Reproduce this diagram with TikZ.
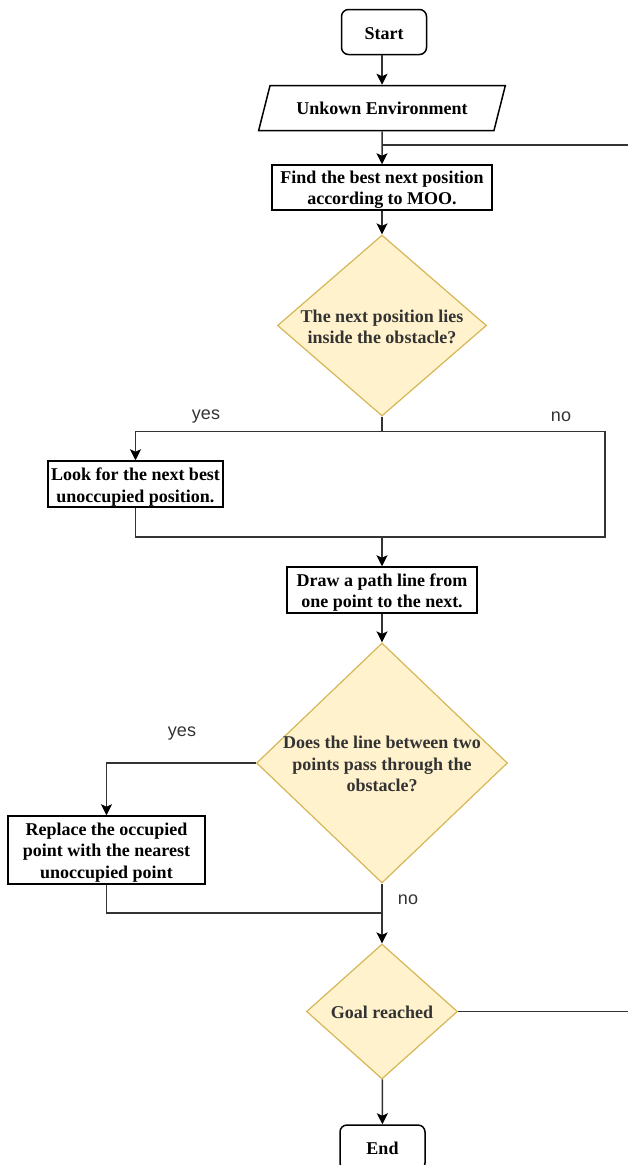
\documentclass[tikz,border=0pt]{standalone}
\usepackage{fontspec}
\setmainfont{Liberation Serif}
\newfontfamily\labfont{Liberation Sans}
\usetikzlibrary{shapes.geometric,arrows.meta}
\definecolor{dfill}{HTML}{FFF2CC}
\definecolor{dline}{HTML}{D6B656}
\definecolor{cline}{HTML}{333333}
\begin{document}
\begin{tikzpicture}[x=1pt,y=-1pt,
  txt/.style={font=\fontsize{18}{21.5}\selectfont\bfseries, align=center, text=black, inner sep=0pt},
  procbox/.style={draw=black, line width=1.5pt, rectangle, inner sep=0pt},
  termbox/.style={procbox, rounded corners=7pt},
  decbox/.style={diamond, draw=dline, fill=dfill, line width=1.2pt, inner sep=0pt},
  conn/.style={draw=cline, line width=1.5pt},
  arr/.style={conn, -{Stealth[length=11pt,width=11pt,inset=2.5pt,color=black]}},
  lab/.style={font=\labfont\fontsize{18}{21}\selectfont, text=cline}
]
\useasboundingbox (0,0) rectangle (628,1165);

% shapes
\node[termbox, minimum width=85pt, minimum height=45pt] (start) at (384,32) {};
\node[txt, trapezium, trapezium left angle=59, trapezium right angle=121, trapezium stretches=true, draw=black, line width=1.5pt, minimum width=247pt, minimum height=45pt, inner sep=1pt] (env) at (382,108) {Unkown Environment};
\node[procbox, minimum width=220pt, minimum height=45pt] (find) at (382,187.5) {};
\node[decbox, minimum width=209pt, minimum height=181pt] (d1) at (382,325.5) {};
\node[procbox, minimum width=175pt, minimum height=46pt] (look) at (135.5,484) {};
\node[procbox, minimum width=190pt, minimum height=46pt] (drawp) at (382,590) {};
\node[decbox, minimum width=251pt, minimum height=240pt] (d2) at (382,763) {};
\node[procbox, minimum width=197pt, minimum height=68pt] (repl) at (106.5,850) {};
\node[decbox, minimum width=151pt, minimum height=135pt] (d3) at (382,1011.5) {};
\node[termbox, minimum width=85pt, minimum height=45pt] (end) at (382.5,1147.5) {};

% texts
\node[txt] (startt) at (384,33.5) {Start};
\node[txt] (findt) at (382,189.5) {Find the best next position\\according to MOO.};
\node[txt, text=cline] (d1t) at (382,327) {The next position lies\\inside the obstacle?};
\node[txt] (lookt) at (135.5,487) {Look for the next best\\unoccupied position.};
\node[txt] (drawpt) at (382,592.5) {Draw a path line from\\one point to the next.};
\node[txt, text=cline] (d2t) at (382,764) {Does the line between two\\points pass through the\\obstacle?};
\node[txt] (replt) at (106.5,852.5) {Replace the occupied\\point with the nearest\\unoccupied point};
\node[txt, text=cline] (d3t) at (382,1012) {Goal reached};
\node[txt] (endt) at (382.5,1148.5) {End};

% labels
\node[lab] (yes1) at (206,417) {yes};
\node[lab] (no1) at (561,417) {no};
\node[lab] (yes2) at (182,734) {yes};
\node[lab] (no2) at (408,900) {no};

% junction coordinates
\coordinate (j1) at (382,145);
\coordinate (j2) at (382,431.5);
\coordinate (cR) at (605,537);
\coordinate (j3) at (382,537);
\coordinate (j4) at (382,913);
\coordinate (lpA) at (630,1011.5);
\coordinate (lpB) at (630,145);

% connectors
\draw[arr] (start.south -| env.north) -- (env.north);
\draw[arr] (env.south) -- (find.north);
\draw[conn] (d3.east) -- (lpA) -- (lpB) -- (j1);
\draw[arr] (find) -- (d1);
\draw[conn] (d1.south) -- (j2);
\draw[arr] (j2) -| (look.north);
\draw[conn] (j2) -| (cR) -- (j3);
\draw[conn] (look.south) |- (j3);
\draw[arr] (j3) -- (drawp.north);
\draw[arr] (drawp) -- (d2);
\draw[arr] (d2.west) -| (repl.north);
\draw[conn] (d2.south) -- (j4);
\draw[conn] (repl.south) |- (j4);
\draw[arr] (j4) -- (d3.north);
\draw[arr] (d3) -- (end);
\end{tikzpicture}
\end{document}
